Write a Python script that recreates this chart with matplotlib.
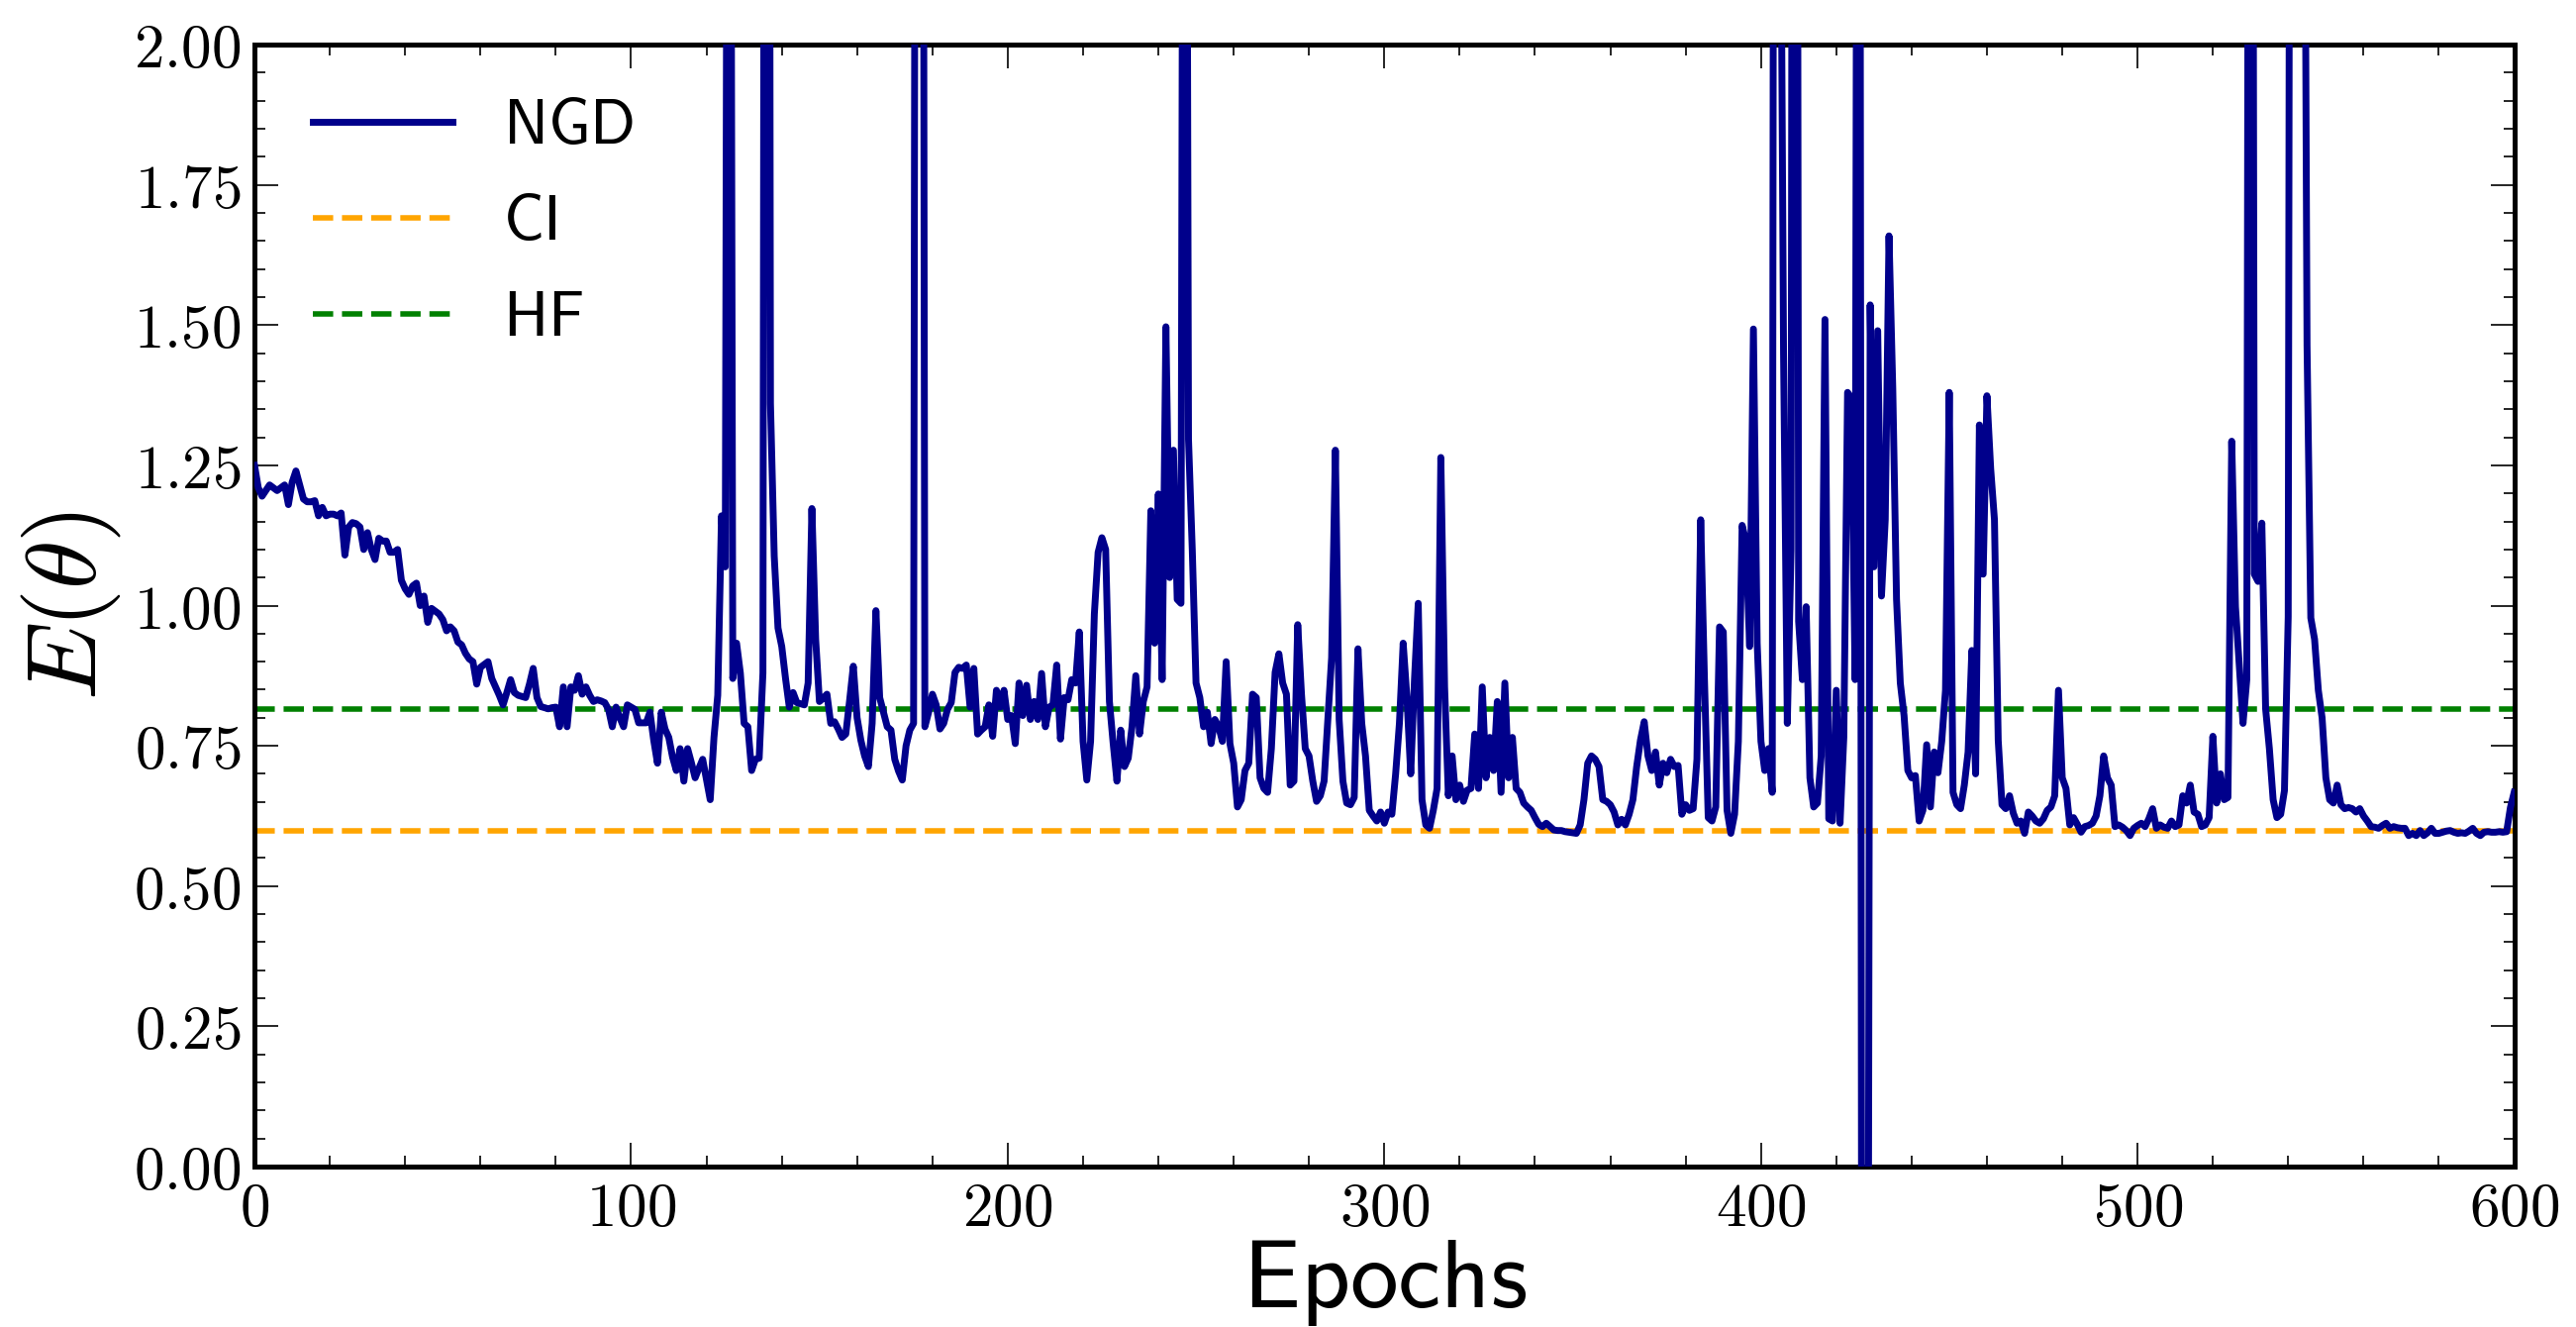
import numpy as np
import matplotlib
matplotlib.use("Agg")
import matplotlib.pyplot as plt
from matplotlib.ticker import MultipleLocator, FuncFormatter

plt.rcParams["mathtext.fontset"] = "cm"

# Energy per epoch for natural gradient descent (epochs 0..600)
ngd_000_099 = [
    1.25, 1.21, 1.195, 1.205, 1.215, 1.21, 1.205, 1.21, 1.215, 1.18,
    1.22, 1.24, 1.215, 1.19, 1.185, 1.185, 1.187, 1.16, 1.175, 1.16,
    1.163, 1.163, 1.16, 1.165, 1.09, 1.14, 1.148, 1.146, 1.14, 1.10,
    1.13, 1.10, 1.082, 1.12, 1.115, 1.115, 1.095, 1.095, 1.10, 1.045,
    1.03, 1.02, 1.035, 1.04, 1.0, 1.017, 0.97, 0.995, 0.99, 0.985,
    0.975, 0.955, 0.962, 0.955, 0.935, 0.93, 0.915, 0.905, 0.90, 0.86,
    0.89, 0.895, 0.90, 0.87, 0.855, 0.84, 0.823, 0.845, 0.868, 0.845,
    0.84, 0.838, 0.836, 0.86, 0.888, 0.836, 0.82, 0.818, 0.816, 0.818,
    0.819, 0.784, 0.855, 0.784, 0.855, 0.849, 0.875, 0.842, 0.855, 0.84,
    0.829, 0.832, 0.83, 0.827, 0.815, 0.784, 0.819, 0.80, 0.784, 0.823,
]
ngd_100_199 = [
    0.819, 0.815, 0.791, 0.791, 0.791, 0.81, 0.76, 0.719, 0.81, 0.78,
    0.765, 0.73, 0.706, 0.745, 0.687, 0.745, 0.72, 0.693, 0.71, 0.726,
    0.69, 0.654, 0.765, 0.84, 1.16, 1.069, 4.0, 0.87, 0.933, 0.88,
    0.79, 0.784, 0.706, 0.726, 0.728, 0.88, 6.0, 1.36, 1.088, 0.96,
    0.927, 0.87, 0.819, 0.845, 0.827, 0.825, 0.823, 0.862, 1.173, 0.94,
    0.829, 0.835, 0.842, 0.79, 0.793, 0.78, 0.765, 0.771, 0.83, 0.892,
    0.80, 0.76, 0.732, 0.713, 0.79, 0.991, 0.836, 0.81, 0.784, 0.778,
    0.726, 0.705, 0.689, 0.75, 0.778, 0.79, 5.0, 5.0, 0.784, 0.81,
    0.842, 0.823, 0.78, 0.79, 0.815, 0.827, 0.881, 0.89, 0.888, 0.894,
    0.819, 0.888, 0.771, 0.778, 0.784, 0.823, 0.767, 0.849, 0.819, 0.849,
]
ngd_200_299 = [
    0.797, 0.804, 0.754, 0.862, 0.804, 0.858, 0.797, 0.829, 0.797, 0.879,
    0.784, 0.819, 0.823, 0.894, 0.762, 0.836, 0.832, 0.868, 0.862, 0.953,
    0.758, 0.689, 0.758, 0.985, 1.095, 1.121, 1.10, 0.829, 0.754, 0.687,
    0.778, 0.713, 0.728, 0.784, 0.875, 0.771, 0.829, 0.855, 1.169, 0.933,
    1.199, 0.868, 1.497, 1.05, 1.277, 1.011, 1.004, 4.0, 1.296, 1.10,
    0.862, 0.836, 0.784, 0.81, 0.754, 0.797, 0.784, 0.758, 0.90, 0.754,
    0.719, 0.641, 0.654, 0.706, 0.719, 0.842, 0.836, 0.693, 0.674, 0.667,
    0.745, 0.881, 0.914, 0.862, 0.842, 0.68, 0.687, 0.966, 0.842, 0.745,
    0.732, 0.687, 0.651, 0.661, 0.687, 0.797, 0.907, 1.277, 0.797, 0.687,
    0.648, 0.645, 0.658, 0.923, 0.79, 0.732, 0.635, 0.625, 0.616, 0.632,
]
ngd_300_399 = [
    0.612, 0.632, 0.628, 0.70, 0.79, 0.933, 0.836, 0.70, 0.868, 1.004,
    0.654, 0.609, 0.603, 0.635, 0.674, 1.264, 0.855, 0.661, 0.732, 0.654,
    0.68, 0.651, 0.671, 0.674, 0.771, 0.674, 0.855, 0.693, 0.765, 0.706,
    0.829, 0.667, 0.862, 0.693, 0.765, 0.674, 0.667, 0.648, 0.641, 0.635,
    0.622, 0.61, 0.606, 0.612, 0.606, 0.60, 0.599, 0.599, 0.597, 0.596,
    0.595, 0.594, 0.609, 0.654, 0.719, 0.732, 0.726, 0.713, 0.654, 0.651,
    0.645, 0.632, 0.609, 0.619, 0.609, 0.628, 0.654, 0.713, 0.76, 0.793,
    0.732, 0.706, 0.739, 0.68, 0.719, 0.702, 0.726, 0.713, 0.715, 0.628,
    0.645, 0.635, 0.638, 0.726, 1.153, 0.868, 0.622, 0.616, 0.641, 0.962,
    0.953, 0.635, 0.594, 0.628, 0.758, 1.143, 1.115, 0.927, 1.493, 0.933,
]
ngd_400_499 = [
    0.758, 0.706, 0.745, 0.667, 6.0, 2.6, 1.45, 0.79, 1.10, 6.0,
    0.972, 0.868, 0.998, 0.693, 0.641, 0.648, 0.732, 1.51, 0.62, 0.616,
    0.849, 0.612, 0.765, 1.38, 1.37, 0.868, 4.5, -2.0, -2.0, 1.536,
    1.069, 1.49, 1.017, 1.153, 1.659, 1.387, 1.011, 0.862, 0.804, 0.706,
    0.693, 0.697, 0.616, 0.635, 0.752, 0.641, 0.739, 0.702, 0.758, 0.849,
    1.38, 0.667, 0.645, 0.638, 0.68, 0.739, 0.92, 0.70, 1.322, 1.056,
    1.374, 1.244, 1.153, 0.76, 0.645, 0.638, 0.661, 0.63, 0.612, 0.616,
    0.594, 0.632, 0.625, 0.616, 0.612, 0.62, 0.635, 0.641, 0.661, 0.849,
    0.693, 0.674, 0.609, 0.622, 0.61, 0.596, 0.606, 0.608, 0.612, 0.625,
    0.661, 0.732, 0.693, 0.68, 0.606, 0.609, 0.605, 0.599, 0.59, 0.603,
]
ngd_500_600 = [
    0.608, 0.612, 0.606, 0.62, 0.638, 0.603, 0.609, 0.605, 0.603, 0.616,
    0.606, 0.609, 0.661, 0.648, 0.68, 0.632, 0.628, 0.606, 0.609, 0.622,
    0.767, 0.648, 0.70, 0.654, 0.658, 1.293, 0.998, 0.894, 0.79, 0.868,
    5.0, 1.056, 1.043, 1.147, 0.816, 0.745, 0.654, 0.622, 0.628, 0.67,
    0.98, 5.0, 5.0, 5.0, 3.0, 1.464, 0.978, 0.94, 0.849, 0.80,
    0.693, 0.654, 0.648, 0.68, 0.645, 0.638, 0.64, 0.638, 0.632, 0.638,
    0.625, 0.616, 0.606, 0.605, 0.603, 0.608, 0.612, 0.603, 0.606, 0.604,
    0.603, 0.603, 0.59, 0.594, 0.59, 0.599, 0.59, 0.595, 0.603, 0.594,
    0.594, 0.596, 0.598, 0.599, 0.596, 0.594, 0.595, 0.594, 0.598, 0.603,
    0.594, 0.59, 0.596, 0.597, 0.596, 0.596, 0.597, 0.596, 0.597, 0.64,
    0.667,
]

ci_energy = 0.598
hf_energy = 0.815

x_ticks = [0, 100, 200, 300, 400, 500, 600]
y_ticks = [0.0, 0.25, 0.5, 0.75, 1.0, 1.25, 1.5, 1.75, 2.0]

ngd = np.array(ngd_000_099 + ngd_100_199 + ngd_200_299 +
               ngd_300_399 + ngd_400_499 + ngd_500_600)
epochs = np.arange(len(ngd))

fig = plt.figure(figsize=(13.01, 6.70), dpi=200)
ax = fig.add_axes([0.0988, 0.1209, 0.8772, 0.8455])

ax.plot(epochs, ngd, color="#00008B", lw=2.5, label=r"$\mathsf{NGD}$", zorder=3)
ax.axhline(ci_energy, color="orange", lw=2.0, ls="--", label=r"$\mathsf{CI}$", zorder=2)
ax.axhline(hf_energy, color="green", lw=2.0, ls="--", label=r"$\mathsf{HF}$", zorder=2)

ax.set_xlim(0, 600)
ax.set_ylim(0, 2)
ax.set_xticks(x_ticks)
ax.set_yticks(y_ticks)
ax.xaxis.set_minor_locator(MultipleLocator(20))
ax.yaxis.set_minor_locator(MultipleLocator(0.05))
ax.xaxis.set_major_formatter(FuncFormatter(lambda v, p: f"${v:.0f}$"))
ax.yaxis.set_major_formatter(FuncFormatter(lambda v, p: f"${v:.2f}$"))

ax.tick_params(which="both", direction="in", top=True, right=True,
               labelsize=22, pad=5)
ax.tick_params(which="major", length=8.6, width=0.6)
ax.tick_params(which="minor", length=4.0, width=0.6)
for sp in ax.spines.values():
    sp.set_linewidth(1.8)

ax.set_xlabel(r"$\mathsf{Epochs}$", fontsize=35, labelpad=-1)
ax.set_ylabel(r"$E(\theta)$", fontsize=36, labelpad=4)

ax.legend(loc="upper left", bbox_to_anchor=(0.026, 0.955), frameon=False,
          fontsize=23, handlelength=2.2, handletextpad=0.8, labelspacing=0.55,
          borderpad=0, borderaxespad=0)

fig.savefig("out.png", dpi=200)
